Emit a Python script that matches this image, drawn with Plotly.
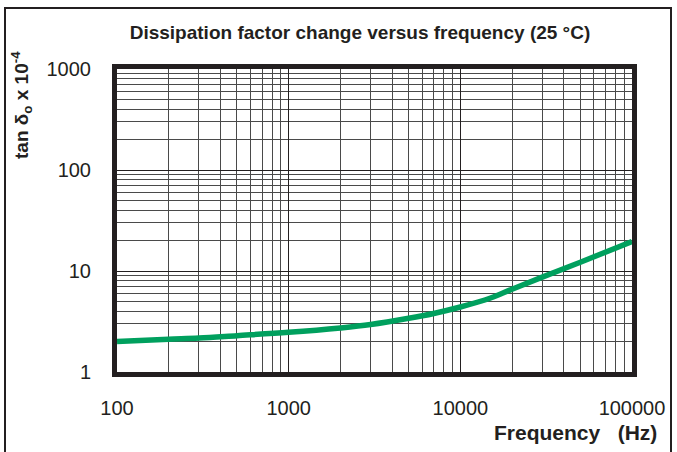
import plotly.graph_objects as go

freq_hz = [100, 200, 300, 500, 1000, 2000, 3000, 5000, 7000, 10000, 15000, 20000, 30000, 50000, 100000]
tan_delta = [2.0, 2.11, 2.17, 2.29, 2.47, 2.73, 2.95, 3.4, 3.8, 4.4, 5.4, 6.6, 8.7, 12.2, 19.6]

x_ticks = [100, 1000, 10000, 100000]
x_tick_labels = ["100", "1000", "10000", "100000"]
y_ticks = [1, 10, 100, 1000]
y_tick_labels = ["1", "10", "100", "1000"]

x_minor = [m * 10 ** e for e in range(2, 5) for m in range(2, 10)]
y_minor = [m * 10 ** e for e in range(0, 3) for m in range(2, 10)]

INK = "#231f20"
GRID_MAJOR = "#231f20"
GRID_MINOR = "#4a4a4a"

fig = go.Figure()
fig.add_trace(go.Scatter(
    x=freq_hz, y=tan_delta, mode="lines",
    line=dict(color="#00a05e", width=5.5, shape="spline", smoothing=1.0),
    showlegend=False, hoverinfo="skip",
))

W, H = 677, 452
PL, PR, PT, PB = 117, 632, 69, 372  # plot area in reference pixels
L, T = PL, PT
R = W - PR
B = H - PB
pw, ph = PR - PL, PB - PT


def px(xp):
    return (xp - PL) / pw


def py(yp):
    return (PB - yp) / ph


fig.update_layout(
    width=W, height=H,
    margin=dict(l=L, r=R, t=T, b=B, pad=0),
    paper_bgcolor="white", plot_bgcolor="white",
    font=dict(family="Liberation Sans, Arial, sans-serif", color=INK),
    title=dict(
        text="<b>Dissipation factor change versus frequency (25 °C)</b>",
        x=360 / W, xanchor="center", y=1 - 32 / H, yanchor="middle",
        font=dict(size=19, color=INK),
    ),
    xaxis=dict(
        type="log", range=[2, 5],
        tickmode="array", tickvals=x_ticks, ticktext=x_tick_labels,
        tickfont=dict(size=20, color=INK), ticks="", ticklabelstandoff=14,
        showgrid=True, gridcolor=GRID_MAJOR, gridwidth=1,
        minor=dict(tickmode="array", tickvals=x_minor, showgrid=True,
                   gridcolor=GRID_MINOR, gridwidth=1, ticks=""),
        showline=True, linecolor=INK, linewidth=5, mirror=True, zeroline=False,
    ),
    yaxis=dict(
        type="log", range=[0, 3],
        tickmode="array", tickvals=y_ticks, ticktext=y_tick_labels,
        tickfont=dict(size=20, color=INK), ticks="", ticklabelstandoff=17,
        showgrid=True, gridcolor=GRID_MAJOR, gridwidth=1,
        minor=dict(tickmode="array", tickvals=y_minor, showgrid=True,
                   gridcolor=GRID_MINOR, gridwidth=1, ticks=""),
        showline=True, linecolor=INK, linewidth=5, mirror=True, zeroline=False,
    ),
    annotations=[
        dict(
            text="<b>tan δ<sub>o</sub> x 10<sup>-4</sup></b>",
            xref="paper", yref="paper", x=px(21), y=py(105),
            xanchor="center", yanchor="middle", textangle=-90,
            showarrow=False, font=dict(size=19, color=INK),
        ),
        dict(
            text="<b>Frequency&nbsp;&nbsp;&nbsp;(Hz)</b>",
            xref="paper", yref="paper", x=px(659), y=py(433),
            xanchor="right", yanchor="middle",
            showarrow=False, font=dict(size=21, color=INK),
        ),
    ],
    shapes=[
        dict(type="rect", xref="paper", yref="paper", x0=px(5), x1=px(671), y0=py(8), y1=py(480),
             line=dict(color=INK, width=2), fillcolor="rgba(0,0,0,0)", layer="below"),
    ],
)

fig.write_html(
    "out.html",
    config={"displayModeBar": False},
    post_script="document.body.style.margin='0';document.body.style.overflow='hidden';",
)
